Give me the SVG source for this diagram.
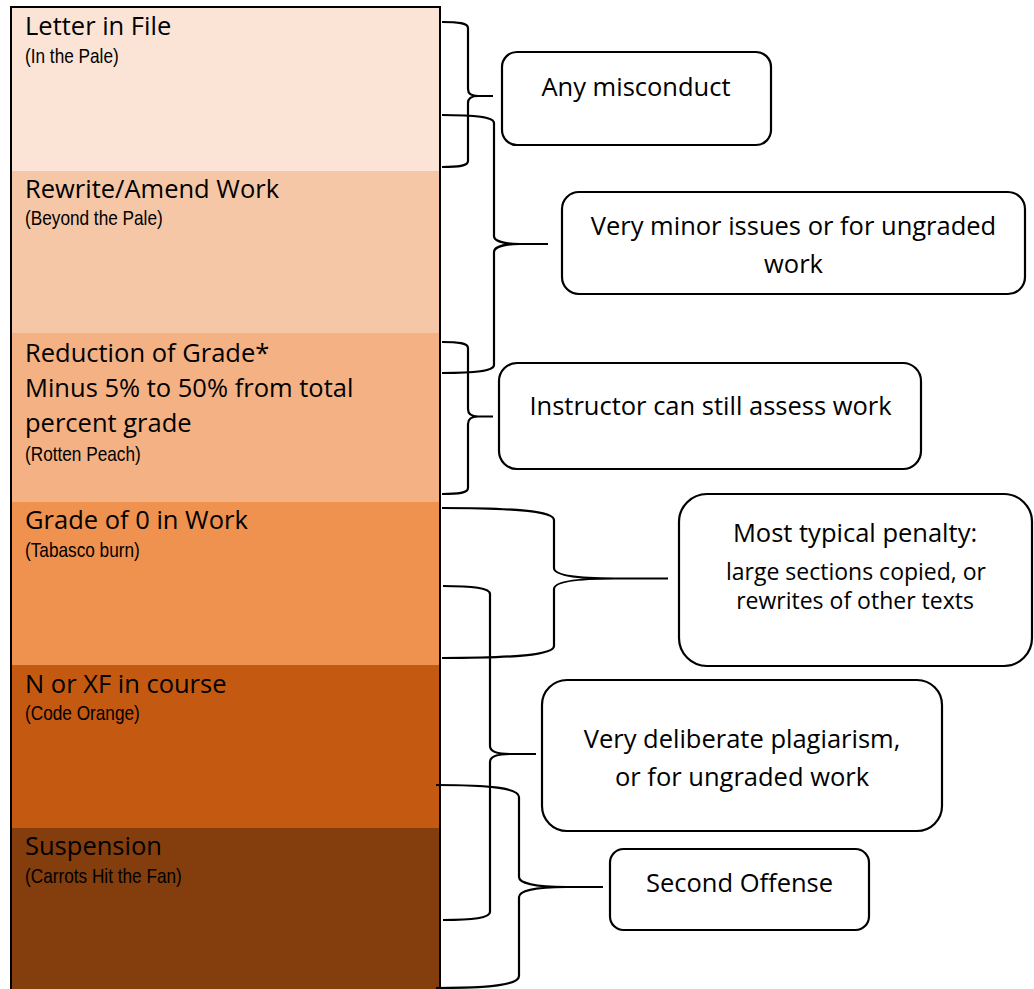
<svg xmlns="http://www.w3.org/2000/svg" width="1034" height="989" viewBox="0 0 1034 989">
<style>
.t{font-family:"Open Sans",sans-serif;font-size:25.5px;fill:#000}
.s{font-family:"Liberation Sans",Arial,sans-serif;font-size:21px;fill:#000}
.bx{fill:#fff;stroke:#000;stroke-width:2.2}
.bt{font-family:"Open Sans",sans-serif;font-size:25.5px;fill:#000;text-anchor:middle}
.bt2{font-family:"Open Sans",sans-serif;font-size:23px;fill:#000;text-anchor:middle}
.br{fill:none;stroke:#000;stroke-width:2.2;stroke-linejoin:round}
</style>
<rect width="1034" height="989" fill="#fff"/>
<g id="scale">
<rect x="11" y="7" width="429" height="164" fill="#FBE4D6"/>
<rect x="11" y="171" width="429" height="162" fill="#F6C7A6"/>
<rect x="11" y="333" width="429" height="169" fill="#F4B184"/>
<rect x="11" y="502" width="429" height="163" fill="#EF914F"/>
<rect x="11" y="665" width="429" height="163" fill="#C45911"/>
<rect x="11" y="828" width="429" height="170" fill="#843D0C"/>
<path d="M11,995 V7 H440 V995" fill="none" stroke="#000" stroke-width="2"/>
</g>
<g id="level1"><text class="t" x="25" y="34.5">Letter in File</text><text class="s" transform="matrix(0.82 0 0 1 25 62.5)">(In the Pale)</text></g>
<g id="level2"><text class="t" x="25" y="197.5">Rewrite/Amend Work</text><text class="s" transform="matrix(0.82 0 0 1 25 225)">(Beyond the Pale)</text></g>
<g id="level3"><text class="t" x="25" y="361.5">Reduction of Grade*</text><text class="t" x="25" y="396.5">Minus 5% to 50% from total</text><text class="t" x="25" y="431.5">percent grade</text><text class="s" transform="matrix(0.82 0 0 1 25 460.5)">(Rotten Peach)</text></g>
<g id="level4"><text class="t" x="25" y="528.5">Grade of 0 in Work</text><text class="s" transform="matrix(0.82 0 0 1 25 556.5)">(Tabasco burn)</text></g>
<g id="level5"><text class="t" x="25" y="692.5">N or XF in course</text><text class="s" transform="matrix(0.82 0 0 1 25 720)">(Code Orange)</text></g>
<g id="level6"><text class="t" x="25" y="855">Suspension</text><text class="s" transform="matrix(0.82 0 0 1 25 883)">(Carrots Hit the Fan)</text></g>
<g id="connectors">
<path class="br" d="M442,22 C459,22 468,23 468,28 L468,89 C468,94 472,96 478,96 L493,96 M478,96 C472,96 468,98 468,103 L468,161 C468,166 459,167 442,167"/>
<path class="br" d="M442,115 C476,115 494,117 494,123 L494,236 C494,241 504,244 520,244 L548,244 M520,244 C504,244 494,247 494,252 L494,365 C494,371 476,373 442,373"/>
<path class="br" d="M442,342 C459,342 468,343 468,348 L468,409 C468,414 472,416.5 478,416.5 L493,416.5 M478,416.5 C472,416.5 468,419 468,424 L468,488 C468,493 459,494 442,494"/>
<path class="br" d="M442,508 C514,508 554,511 554,520 L554,568 C554,575 575,578.5 615,578.5 L668,578.5 M615,578.5 C575,578.5 554,582 554,589 L554,646 C554,655 514,658 442,658"/>
<path class="br" d="M443,586 C473,586 490,588 490,594 L490,746 C490,751 496,754 510,754 L536,754 M510,754 C496,754 490,757 490,762 L490,912 C490,918 473,920 443,920"/>
<path class="br" d="M436,785 C490,785 519,788 519,797 L519,877 C519,883 535,887 566,887 L603,887 M566,887 C535,887 519,891 519,897 L519,976 C519,985 490,988 436,988"/>
</g>
<g id="box1"><rect class="bx" x="502" y="52" width="269" height="93" rx="15"/><text class="bt" x="636" y="96">Any misconduct</text></g>
<g id="box2"><rect class="bx" x="562" y="192" width="463" height="102" rx="17"/><text class="bt" x="793.5" y="235">Very minor issues or for ungraded</text><text class="bt" x="793.5" y="273">work</text></g>
<g id="box3"><rect class="bx" x="499" y="363" width="422" height="106" rx="18"/><text class="bt" x="710.5" y="415">Instructor can still assess work</text></g>
<g id="box4"><rect class="bx" x="679" y="494" width="353" height="172" rx="28"/><text class="bt" x="855" y="542">Most typical penalty:</text><text class="bt2" x="856" y="580">large sections copied, or</text><text class="bt2" x="855" y="609">rewrites of other texts</text></g>
<g id="box5"><rect class="bx" x="542" y="680" width="400" height="151" rx="25"/><text class="bt" x="742" y="748">Very deliberate plagiarism,</text><text class="bt" x="742" y="786">or for ungraded work</text></g>
<g id="box6"><rect class="bx" x="610" y="849" width="259" height="81" rx="13.5"/><text class="bt" x="739.5" y="892">Second Offense</text></g>
</svg>
